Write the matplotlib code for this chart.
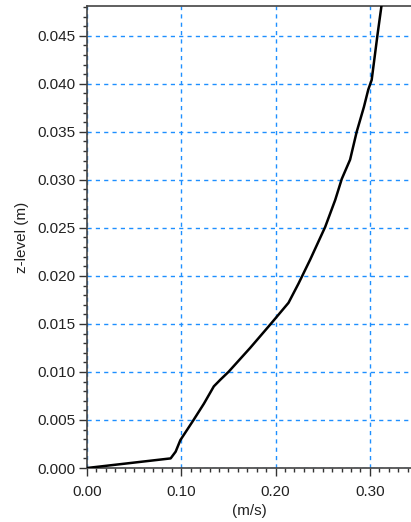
import matplotlib.pyplot as plt
import numpy as np
from matplotlib.ticker import MultipleLocator, FormatStrFormatter

# velocity profile
speed = [0.0, 0.0887, 0.094, 0.099, 0.113, 0.124, 0.1345, 0.1415, 0.150,
         0.173, 0.194, 0.200, 0.2137, 0.2243, 0.2367, 0.2526, 0.2632, 0.2702,
         0.279, 0.286, 0.2937, 0.2983, 0.3019, 0.3082, 0.3124]
z_level = [0.0, 0.0010, 0.0017, 0.0029, 0.0050, 0.0067, 0.0085, 0.0092, 0.0100,
           0.0125, 0.0149, 0.0156, 0.0172, 0.0192, 0.0217, 0.0251, 0.0279, 0.0301,
           0.0321, 0.0350, 0.0376, 0.0394, 0.0404, 0.0452, 0.0482]

plt.rcParams['font.family'] = ['Liberation Sans', 'DejaVu Sans']

fig = plt.figure(figsize=(4.11, 5.22), dpi=100)
ax = fig.add_axes([87/411, 1 - 468/522, 324/411, 462/522])

ax.plot(speed, z_level, color='black', lw=1.8, zorder=3)

ax.set_xlim(0, 0.3436)
ax.set_ylim(0, 0.0481)

ax.xaxis.set_major_locator(MultipleLocator(0.1))
ax.xaxis.set_minor_locator(MultipleLocator(0.01))
ax.yaxis.set_major_locator(MultipleLocator(0.005))
ax.yaxis.set_minor_locator(MultipleLocator(0.001))
ax.xaxis.set_major_formatter(FormatStrFormatter('%.2f'))
ax.yaxis.set_major_formatter(FormatStrFormatter('%.3f'))

ax.grid(True, which='major', color='#1e8fff', linestyle=(0, (3, 3)), lw=1)

ax.tick_params(which='major', length=5.5, width=1, color='#333333',
               labelsize=11, labelcolor='#222222')
ax.tick_params(axis='x', which='major', pad=7)
ax.tick_params(axis='y', which='major', pad=3)
ax.tick_params(which='minor', length=3, width=1, color='#333333')

for s in ['left', 'bottom', 'top']:
    ax.spines[s].set_color('#444444')
    ax.spines[s].set_linewidth(1.2)
ax.spines['right'].set_visible(False)

ax.set_xlabel('(m/s)', fontsize=11, color='#222222', labelpad=3)
ax.set_ylabel('z-level (m)', fontsize=11, color='#222222', labelpad=6)

fig.savefig('out.png', dpi=100)
plt.close()
